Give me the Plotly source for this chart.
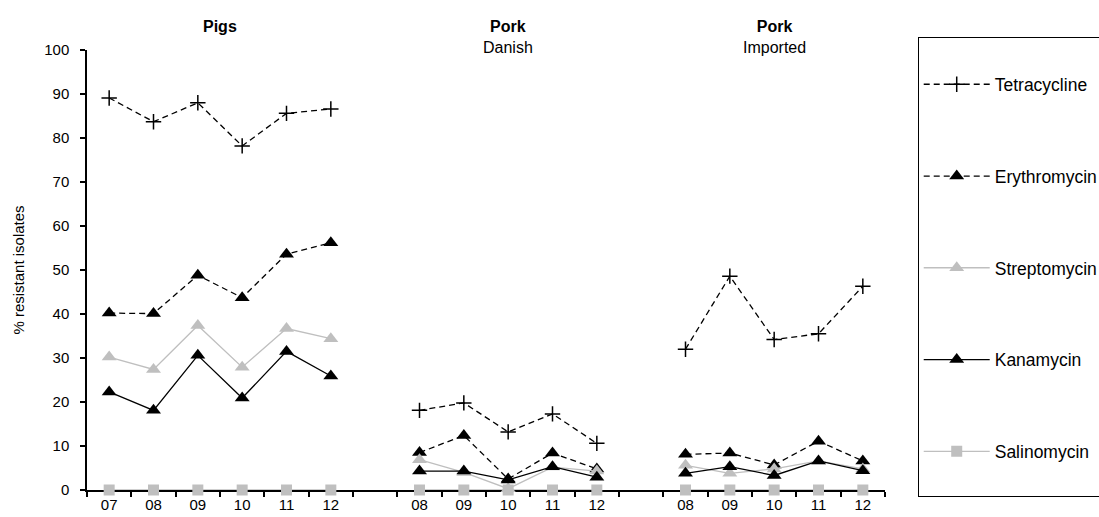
import plotly.graph_objects as go

# category slots: Pigs 07-12, gap, Pork Danish 08-12, gap, Pork Imported 08-12
tick_labels = ["07", "08", "09", "10", "11", "12", "",
               "08", "09", "10", "11", "12", "",
               "08", "09", "10", "11", "12"]

tetracycline = [89.1, 83.7, 88.0, 78.2, 85.6, 86.6, None,
                18.1, 19.8, 13.2, 17.3, 10.6, None,
                32.0, 48.6, 34.2, 35.5, 46.3]
erythromycin = [40.2, 40.1, 48.8, 43.7, 53.6, 56.2, None,
                8.5, 12.4, 2.5, 8.4, 4.8, None,
                8.1, 8.4, 5.7, 11.1, 6.6]
streptomycin = [30.2, 27.4, 37.4, 27.9, 36.7, 34.4, None,
                6.9, 4.0, 0.3, 5.2, 4.3, None,
                5.6, 3.8, 4.8, 6.6, 4.8]
kanamycin = [22.3, 18.1, 30.6, 20.9, 31.5, 25.9, None,
             4.3, 4.3, 2.3, 5.3, 2.9, None,
             3.8, 5.3, 3.3, 6.6, 4.4]
salinomycin = [0, 0, 0, 0, 0, 0, None,
               0, 0, 0, 0, 0, None,
               0, 0, 0, 0, 0]

group_titles = ["<b>Pigs</b>", "<b>Pork</b><br>Danish", "<b>Pork</b><br>Imported"]
group_centers = [2.5, 9, 15]

GREY = "#BFBFBF"
x = list(range(len(tick_labels)))

series = [
    ("Tetracycline", tetracycline, "black", "dash", "cross-thin", 11),
    ("Erythromycin", erythromycin, "black", "dash", "triangle-up", 13),
    ("Streptomycin", streptomycin, GREY, "solid", "triangle-up", 13),
    ("Kanamycin", kanamycin, "black", "solid", "triangle-up", 13),
    ("Salinomycin", salinomycin, GREY, "solid", "square", 11),
]

fig = go.Figure()
for i, (name, vals, color, dash, symbol, size) in enumerate(series):
    fig.add_trace(go.Scatter(
        x=x, y=vals, name=name, mode="lines+markers",
        line=dict(color=color, width=1.3, dash="6px,4px" if dash == "dash" else "solid"),
        marker=dict(symbol=symbol, size=size, color=color,
                    line=dict(color=color, width=1.5 if symbol == "cross-thin" else 0)),
        connectgaps=False, cliponaxis=False, legendgroup=str(i),
    ))

# blank entry: only pads the bottom of the legend box like the original
fig.add_trace(go.Scatter(
    x=[None], y=[None], name=" ", mode="markers",
    marker=dict(color="rgba(0,0,0,0)", size=1), legendgroup="4", hoverinfo="skip",
))

for xc, txt in zip(group_centers, group_titles):
    fig.add_annotation(x=xc, y=1.078, xref="x", yref="paper", yanchor="top",
                       text=txt, showarrow=False,
                       font=dict(size=16, color="black"))

fig.update_layout(
    width=1099, height=517,
    margin=dict(l=87, r=214, t=50, b=27, autoexpand=False),
    paper_bgcolor="white", plot_bgcolor="white",
    font=dict(family="Liberation Sans, Arial, sans-serif", size=15, color="black"),
    showlegend=True,
    legend=dict(
        x=1.041, y=1.03, xanchor="left", yanchor="top",
        bordercolor="black", borderwidth=1, bgcolor="white",
        font=dict(size=17.5, color="black"),
        title=dict(text=" ", font=dict(size=22)),
        tracegroupgap=66, itemwidth=66, maxheight=517,
    ),
)

fig.update_xaxes(
    range=[-0.5, 17.5], tickmode="array", tickvals=x, ticktext=tick_labels,
    ticks="outside", ticklen=0, showgrid=False, zeroline=False,
    showline=True, linecolor="black", linewidth=1.5,
    minor=dict(tickmode="linear", tick0=-0.5, dtick=1, ticks="outside",
               ticklen=5, tickcolor="black", tickwidth=1.5, showgrid=False),
    ticklabelstandoff=0, layer="below traces",
)
fig.update_yaxes(
    range=[0, 100], dtick=10, ticks="outside", ticklen=5, tickwidth=1.5,
    tickcolor="black", showgrid=False, zeroline=False,
    showline=True, linecolor="black", linewidth=1.5,
    ticklabelstandoff=8,
    title=dict(text="% resistant isolates", font=dict(size=15), standoff=16),
    layer="below traces",
)

fig.write_html("out.html", config={"displayModeBar": False},
               post_script="document.body.style.margin='0';")
